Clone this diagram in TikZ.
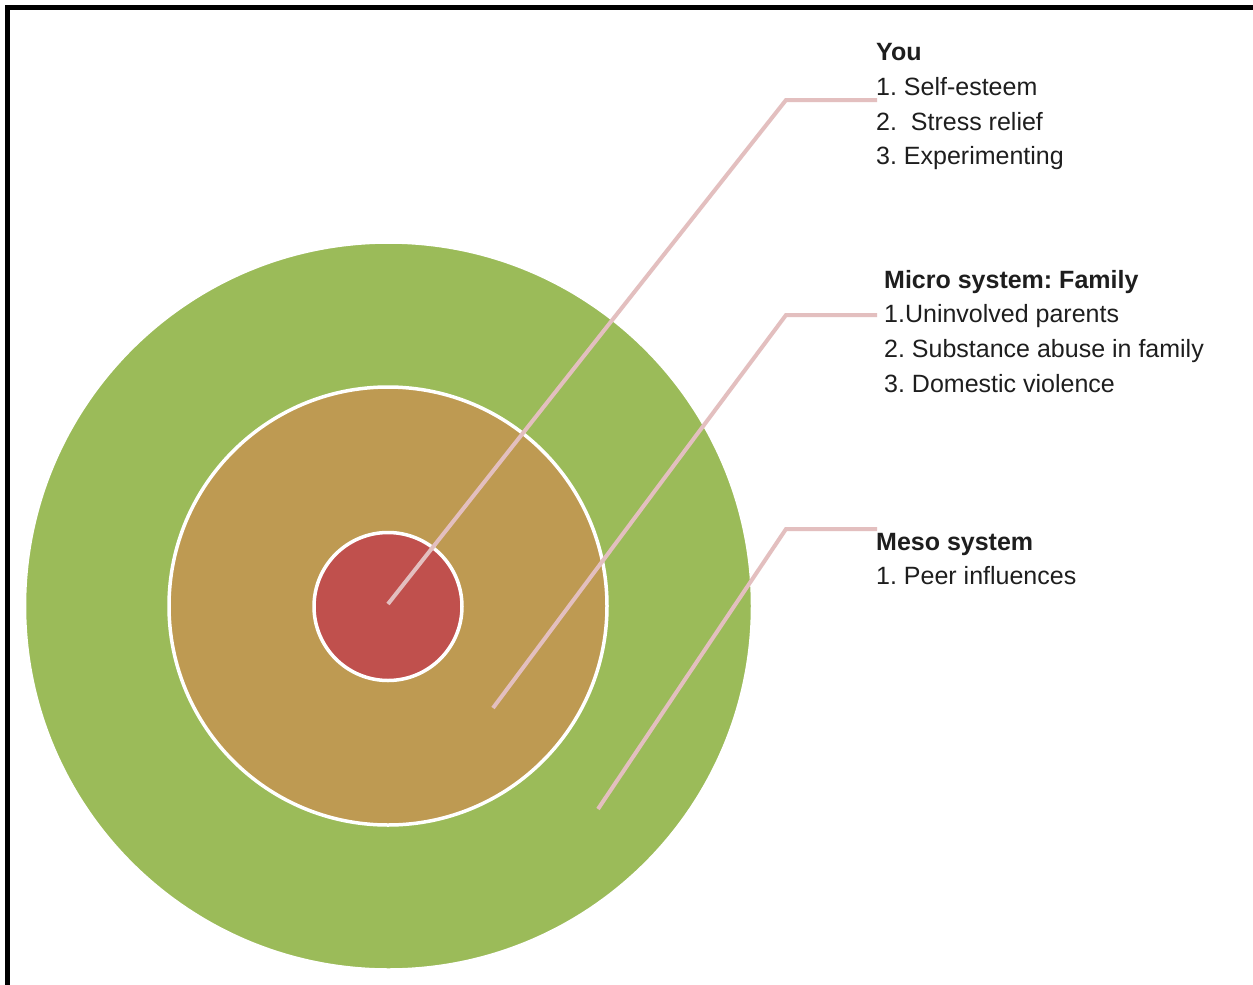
\documentclass[tikz,border=0pt]{standalone}
\usepackage{fontspec}
\setmainfont{Liberation Sans}
\frenchspacing
\definecolor{ringgreen}{HTML}{9BBB59}
\definecolor{ringtan}{HTML}{BE9A52}
\definecolor{ringred}{HTML}{C0504D}
\definecolor{leader}{HTML}{E3BFBF}
\definecolor{txt}{HTML}{1E1E1E}
\tikzset{
  ring/.style={circle, draw=white, line width=3.5pt, inner sep=0pt},
  leaderline/.style={draw=leader, line width=4pt, line cap=butt, line join=miter},
  lbl/.style={anchor=base west, inner sep=0pt, text=txt, font=\fontsize{25}{30}\selectfont},
  hdr/.style={lbl, font=\fontsize{25}{30}\selectfont\bfseries},
}
\begin{document}
\begin{tikzpicture}[x=1pt,y=-1pt]
\useasboundingbox (0,0) rectangle (1253,985);
\fill[white] (0,0) rectangle (1253,985);
% frame
\draw[line width=5pt, black] (7,990) -- (7,7) -- (1258,7);
% rings
\node[ring, minimum size=728pt, fill=ringgreen] (outer) at (388.5,606) {};
\node[ring, minimum size=438pt, fill=ringtan] (middle) at (388,606) {};
\node[ring, minimum size=148pt, fill=ringred] (inner) at (388,606.5) {};
% leader points
\coordinate (s1) at (388,604);
\coordinate (b1) at (786,100);
\coordinate (e1) at (877,100);
\coordinate (s2) at (493,708);
\coordinate (b2) at (786,315);
\coordinate (e2) at (877,315);
\coordinate (s3) at (598,809);
\coordinate (b3) at (786,529);
\coordinate (e3) at (877,529);
\draw[leaderline] (s1) -- (b1) -- (e1);
\draw[leaderline] (s2) -- (b2) -- (e2);
\draw[leaderline] (s3) -- (b3) -- (e3);
% texts
\node[hdr] (you) at (876,60) {You};
\node[lbl] (you1) at (876,95) {1. Self-esteem};
\node[lbl] (you2) at (876,130) {2.\ \ Stress relief};
\node[lbl] (you3) at (876,164.5) {3. Experimenting};
\node[hdr] (micro) at (884,288) {Micro system: Family};
\node[lbl] (micro1) at (884,322) {1.Uninvolved parents};
\node[lbl] (micro2) at (884,357) {2. Substance abuse in family};
\node[lbl] (micro3) at (884,392) {3. Domestic violence};
\node[hdr] (meso) at (876,550) {Meso system};
\node[lbl] (meso1) at (876,584) {1. Peer influences};
\end{tikzpicture}
\end{document}
